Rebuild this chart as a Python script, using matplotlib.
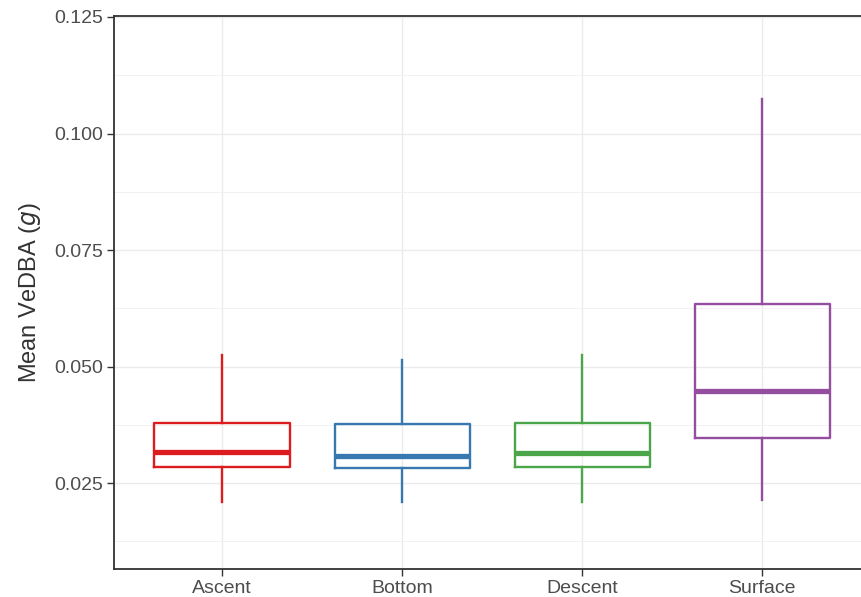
import matplotlib
matplotlib.use("Agg")
import matplotlib.pyplot as plt
from matplotlib.ticker import MultipleLocator

plt.rcParams['font.family'] = ['Liberation Sans', 'DejaVu Sans']

phases = ["Ascent", "Bottom", "Descent", "Surface"]
whisker_low = [0.0209, 0.0209, 0.0209, 0.0214]
q1 = [0.0284, 0.0282, 0.0284, 0.0346]
median = [0.0316, 0.0309, 0.0314, 0.0448]
q3 = [0.0380, 0.0376, 0.0380, 0.0635]
whisker_high = [0.0526, 0.0515, 0.0526, 0.1073]
colours = ["#DD1C1F", "#3778B0", "#4BA64A", "#944E9F"]

fig = plt.figure(figsize=(8.61, 5.97), dpi=100)
ax = fig.add_axes([0.1324, 0.0469, 0.8781, 0.9263])

positions = list(range(1, len(phases) + 1))
for i, pos in enumerate(positions):
    stats = [{"whislo": whisker_low[i], "q1": q1[i], "med": median[i],
              "q3": q3[i], "whishi": whisker_high[i], "fliers": []}]
    c = colours[i]
    ax.bxp(stats, positions=[pos], widths=0.75, showcaps=False,
           boxprops=dict(color=c, linewidth=1.7),
           whiskerprops=dict(color=c, linewidth=1.7),
           medianprops=dict(color=c, linewidth=3.8, solid_capstyle='butt'),
           zorder=3)

ax.set_xlim(0.4, 4.6)
ax.set_ylim(0.0066, 0.1252)
ax.set_xticks(positions)
ax.set_xticklabels(phases)
ax.yaxis.set_major_locator(MultipleLocator(0.025))
ax.yaxis.set_minor_locator(MultipleLocator(0.0125))
ax.yaxis.set_major_formatter(matplotlib.ticker.FormatStrFormatter('%.3f'))

ax.grid(True, which='major', color='#EBEBEB', linewidth=1.0, zorder=0)
ax.grid(True, which='minor', axis='y', color='#F2F2F2', linewidth=0.7, zorder=0)
ax.set_axisbelow(True)
ax.tick_params(axis='both', which='major', length=5, width=1, color='#333333',
               labelsize=14, labelcolor='#4D4D4D', pad=3)
ax.tick_params(axis='y', which='minor', length=0)
for s in ax.spines.values():
    s.set_color('#333333')
    s.set_linewidth(1.3)

ax.set_ylabel("Mean VeDBA ($\\it{g}$)", fontsize=17, color='#333333', labelpad=8)

fig.savefig("out.png", dpi=100)
